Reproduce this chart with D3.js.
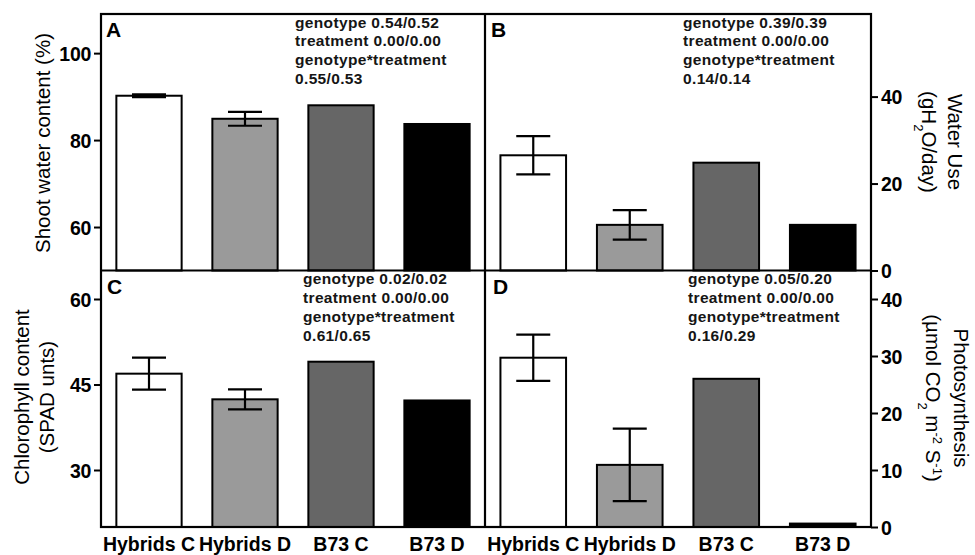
<!DOCTYPE html>
<html>
<head>
<meta charset="utf-8">
<script src="https://cdn.jsdelivr.net/npm/d3@7"></script>
<style>
  html, body { margin: 0; padding: 0; background: #fff; }
  svg { display: block; font-family: "Liberation Sans", Arial, Helvetica, sans-serif; }
</style>
</head>
<body>
<svg id="chart" width="975" height="555"></svg>
<script>
// Groups on the x axis (shared by all four panels)
const categories = ["Hybrids C", "Hybrids D", "B73 C", "B73 D"];
const barFills = ["#ffffff", "#9a9a9a", "#666666", "#000000"];

// Panel A: shoot water content (%)
const shootWater = [90.2, 84.9, 88.0, 83.7];
const shootWaterErr = [0.3, 1.6, 0, 0];
const shootWaterTicks = [60, 80, 100];

// Panel B: water use (g H2O / day)
const waterUse = [26.5, 10.5, 24.8, 10.5];
const waterUseErr = [4.4, 3.4, 0, 0];
const waterUseTicks = [0, 20, 40];

// Panel C: chlorophyll content (SPAD units)
const chlorophyll = [46.9, 42.4, 49.0, 42.2];
const chlorophyllErr = [2.8, 1.75, 0, 0];
const chlorophyllTicks = [30, 45, 60];

// Panel D: photosynthesis (umol CO2 m-2 s-1)
const photosynthesis = [29.7, 10.9, 26.0, 0.6];
const photosynthesisErr = [4.05, 6.35, 0, 0];
const photosynthesisTicks = [0, 10, 20, 30, 40];

// ANOVA p-values printed in each panel
const statsA = ["genotype 0.54/0.52", "treatment 0.00/0.00", "genotype*treatment", "0.55/0.53"];
const statsB = ["genotype 0.39/0.39", "treatment 0.00/0.00", "genotype*treatment", "0.14/0.14"];
const statsC = ["genotype 0.02/0.02", "treatment 0.00/0.00", "genotype*treatment", "0.61/0.65"];
const statsD = ["genotype 0.05/0.20", "treatment 0.00/0.00", "genotype*treatment", "0.16/0.29"];

const svg = d3.select("#chart");

// Layout of the 2x2 grid
const xL = 101, xM = 485, xR = 871;
const yT = 14, yM = 270.5, yB = 527;

const xLeft = d3.scaleBand().domain(categories).range([xL, xM]).paddingInner(0.32).paddingOuter(0.16);
const xRight = d3.scaleBand().domain(categories).range([xM, xR]).paddingInner(0.32).paddingOuter(0.16);

const panels = [
  { id: "A", x: xLeft, y: d3.scaleLinear().domain([50, 109]).range([yM, yT]), values: shootWater, err: shootWaterErr,
    ticks: shootWaterTicks, side: "left", stats: statsA, statsX: 295, letterX: 106 },
  { id: "B", x: xRight, y: d3.scaleLinear().domain([0, 59]).range([yM, yT]), values: waterUse, err: waterUseErr,
    ticks: waterUseTicks, side: "right", stats: statsB, statsX: 683, letterX: 491 },
  { id: "C", x: xLeft, y: d3.scaleLinear().domain([20, 65]).range([yB, yM]), values: chlorophyll, err: chlorophyllErr,
    ticks: chlorophyllTicks, side: "left", stats: statsC, statsX: 303, letterX: 107 },
  { id: "D", x: xRight, y: d3.scaleLinear().domain([0, 45]).range([yB, yM]), values: photosynthesis, err: photosynthesisErr,
    ticks: photosynthesisTicks, side: "right", stats: statsD, statsX: 688, letterX: 493 }
];

panels.forEach(p => {
  const g = svg.append("g").attr("class", "panel-" + p.id);
  const base = p.y.range()[0];
  const top = p.y.range()[1];

  // bars
  g.selectAll("rect.bar")
    .data(p.values)
    .join("rect")
    .attr("class", "bar")
    .attr("x", (d, i) => p.x(categories[i]))
    .attr("width", p.x.bandwidth())
    .attr("y", d => p.y(d))
    .attr("height", d => base - p.y(d))
    .attr("fill", (d, i) => barFills[i])
    .attr("stroke", "#000")
    .attr("stroke-width", 2);

  // error bars (mean +/- SE)
  const capHalf = 17;
  const eb = g.selectAll("g.err")
    .data(p.values.map((v, i) => ({ v, e: p.err[i], c: categories[i] })).filter(d => d.e > 0))
    .join("g")
    .attr("class", "err")
    .attr("stroke", "#000")
    .attr("stroke-width", 2.2);
  eb.append("line")
    .attr("x1", d => p.x(d.c) + p.x.bandwidth() / 2)
    .attr("x2", d => p.x(d.c) + p.x.bandwidth() / 2)
    .attr("y1", d => p.y(d.v + d.e))
    .attr("y2", d => p.y(d.v - d.e));
  [1, -1].forEach(s => {
    eb.append("line")
      .attr("x1", d => p.x(d.c) + p.x.bandwidth() / 2 - capHalf)
      .attr("x2", d => p.x(d.c) + p.x.bandwidth() / 2 + capHalf)
      .attr("y1", d => p.y(d.v + s * d.e))
      .attr("y2", d => p.y(d.v + s * d.e));
  });

  // value axis
  const axisX = p.side === "left" ? xL : xR;
  const axis = (p.side === "left" ? d3.axisLeft(p.y) : d3.axisRight(p.y))
    .tickValues(p.ticks).tickSize(7).tickPadding(3).tickFormat(d3.format("d"));
  const ag = g.append("g").attr("transform", `translate(${axisX},0)`).call(axis);
  ag.select(".domain").remove();
  ag.selectAll(".tick line").attr("stroke", "#000").attr("stroke-width", 2);
  ag.selectAll(".tick text")
    .attr("fill", "#000")
    .attr("dy", "0.36em")
    .style("font-size", "19.5px")
    .style("font-weight", "bold")
    .style("letter-spacing", "-0.3px")
    .style("font-family", '"Liberation Sans", Arial, sans-serif');

  // panel letter
  g.append("text")
    .attr("x", p.letterX)
    .attr("y", top + 23)
    .style("font-size", "21px")
    .style("font-weight", "bold")
    .text(p.id);

  // statistics block
  g.append("text")
    .attr("x", p.statsX)
    .attr("y", top + 13.5)
    .style("font-size", "15.5px")
    .style("font-weight", "bold")
    .style("letter-spacing", "0.35px")
    .attr("fill", "#151515")
    .selectAll("tspan")
    .data(p.stats)
    .join("tspan")
    .attr("x", p.statsX)
    .attr("dy", (d, i) => i === 0 ? 0 : 18.9)
    .text(d => d);
});

// frame and panel dividers
const frame = svg.append("g").attr("stroke", "#000").attr("stroke-width", 2.2).attr("fill", "none");
frame.append("rect").attr("x", xL).attr("y", yT).attr("width", xR - xL).attr("height", yB - yT);
frame.append("line").attr("x1", xM).attr("x2", xM).attr("y1", yT).attr("y2", yB);
frame.append("line").attr("x1", xL).attr("x2", xR).attr("y1", yM).attr("y2", yM);

// category labels under the bottom panels
[xLeft, xRight].forEach(sc => {
  svg.append("g").selectAll("text")
    .data(categories)
    .join("text")
    .attr("x", d => sc(d) + sc.bandwidth() / 2)
    .attr("y", 551)
    .attr("text-anchor", "middle")
    .style("font-size", "19.5px")
    .style("font-weight", "bold")
    .text(d => d);
});

// axis titles
const titleSize = "20.5px";
svg.append("text")
  .attr("transform", "translate(50,143) rotate(-90)")
  .attr("text-anchor", "middle")
  .style("font-size", titleSize)
  .text("Shoot water content (%)");

const tC = svg.append("text")
  .attr("transform", "translate(29,397) rotate(-90)")
  .attr("text-anchor", "middle")
  .style("font-size", titleSize);
tC.append("tspan").attr("x", 0).attr("dy", 0).text("Chlorophyll content");
tC.append("tspan").attr("x", 0).attr("dy", 24.7).text("(SPAD unts)");

const tB = svg.append("text")
  .attr("transform", "translate(948,142) rotate(90)")
  .attr("text-anchor", "middle")
  .style("font-size", titleSize);
tB.append("tspan").attr("x", 0).attr("dy", 0).text("Water Use");
const tB2 = tB.append("tspan").attr("x", 0).attr("dy", 26.5);
tB2.append("tspan").text("(gH");
tB2.append("tspan").attr("baseline-shift", "sub").style("font-size", "13px").text("2");
tB2.append("tspan").text("O/day)");

const tD = svg.append("text")
  .attr("transform", "translate(954,398) rotate(90)")
  .attr("text-anchor", "middle")
  .style("font-size", titleSize);
tD.append("tspan").attr("x", 0).attr("dy", 0).text("Photosynthesis");
const tD2 = tD.append("tspan").attr("x", 0).attr("dy", 28);
tD2.append("tspan").text("(µmol CO");
tD2.append("tspan").attr("baseline-shift", "sub").style("font-size", "13px").text("2");
tD2.append("tspan").text(" m");
tD2.append("tspan").attr("baseline-shift", "super").style("font-size", "13px").text("-2");
tD2.append("tspan").text(" S");
tD2.append("tspan").attr("baseline-shift", "super").style("font-size", "13px").text("-1");
tD2.append("tspan").text(")");
</script>
</body>
</html>
